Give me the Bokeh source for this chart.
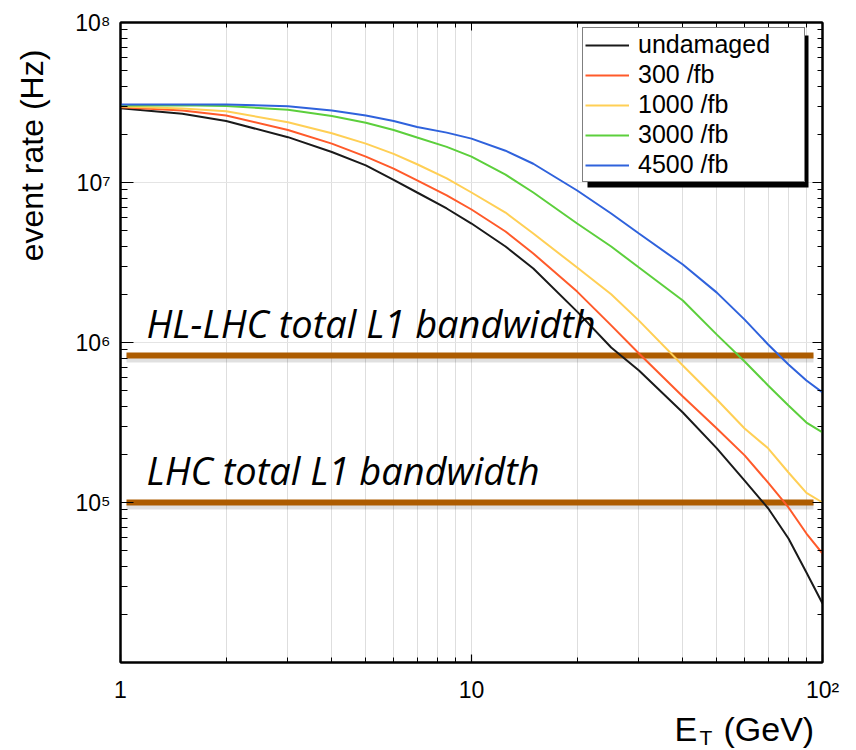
import math
from bokeh.plotting import figure
from bokeh.layouts import column, row
from bokeh.models import (FixedTicker, Legend, LegendItem, Label, BoxAnnotation, LogAxis, Range1d)
from bokeh.core.properties import value
from bokeh.embed import file_html
from bokeh.resources import INLINE

# ---------------- data ----------------
et_gev = [1, 1.5, 2, 3, 4, 5, 6, 7, 8.5, 10, 12.5, 15, 20, 25, 30, 40, 50, 60, 70, 80, 90, 100]
undamaged = [2.91e7, 2.69e7, 2.42e7, 1.92e7, 1.55e7, 1.28e7, 1.04e7, 8.66e6, 6.88e6, 5.54e6, 3.98e6,
             2.90e6, 1.56e6, 9.31e5, 6.68e5, 3.65e5, 2.18e5, 1.37e5, 9.2e4, 5.96e4, 3.65e4, 2.34e4]
fb300 = [2.95e7, 2.82e7, 2.62e7, 2.13e7, 1.75e7, 1.45e7, 1.22e7, 1.03e7, 8.3e6, 6.78e6, 4.94e6,
         3.60e6, 2.08e6, 1.28e6, 8.54e5, 4.60e5, 2.90e5, 1.97e5, 1.33e5, 9.31e4, 6.4e4, 4.8e4]
fb1000 = [2.99e7, 2.90e7, 2.79e7, 2.38e7, 2.03e7, 1.75e7, 1.51e7, 1.30e7, 1.06e7, 8.66e6, 6.49e6,
          4.80e6, 2.94e6, 2.0e6, 1.37e6, 7.18e5, 4.40e5, 2.90e5, 2.18e5, 1.54e5, 1.15e5, 1.0e5]
fb3000 = [3.03e7, 3.04e7, 3.01e7, 2.85e7, 2.60e7, 2.36e7, 2.13e7, 1.91e7, 1.67e7, 1.45e7, 1.12e7,
          8.66e6, 5.54e6, 3.98e6, 2.94e6, 1.83e6, 1.12e6, 7.61e5, 5.39e5, 4.04e5, 3.16e5, 2.74e5]
fb4500 = [3.07e7, 3.07e7, 3.07e7, 3.0e7, 2.82e7, 2.62e7, 2.42e7, 2.22e7, 2.05e7, 1.88e7, 1.58e7,
          1.31e7, 8.91e6, 6.40e6, 4.80e6, 3.07e6, 2.05e6, 1.39e6, 9.72e5, 7.29e5, 5.79e5, 4.87e5]
series_names = ["undamaged", "300 /fb", "1000 /fb", "3000 /fb", "4500 /fb"]
series_colors = ["#1a1a1a", "#ff5a2a", "#ffcf55", "#5ccf3c", "#2f62dc"]

bandwidth_labels = ["HL-LHC total L1 bandwidth", "LHC total L1 bandwidth"]
bandwidth_rates = [8.3e5, 1.0e5]

x_major = [1, 10, 100]
x_major_labels = ["1", "10", "10\u00b2"]
x_minor = [2, 3, 4, 5, 6, 7, 8, 9, 20, 30, 40, 50, 60, 70, 80, 90]
y_major = [1e5, 1e6, 1e7, 1e8]
y_major_labels = ["10\u2075", "10\u2076", "10\u2077", "10\u2078"]
y_minor = [m * d for d in [1e4, 1e5, 1e6, 1e7] for m in range(2, 10)]

y_title = "event rate (Hz)"
x_title_parts = ["E", "T", "(GeV)"]

# ---------------- layout (page pixels) ----------------
W, H = 856, 750
LEFT_STRIP = 60
BOTTOM_STRIP = 44
FL, FR, FT, FB = 120, 822, 22, 662
MAIN_H = H - BOTTOM_STRIP

def sx(px):
    return 10 ** ((px - FL) / 351.0)
def sy(py):
    return 10 ** (8 - (py - FT) / 160.0)

FONT = "Liberation Sans"

p = figure(width=W - LEFT_STRIP, height=MAIN_H, x_axis_type="log", y_axis_type="log",
           x_range=(1, 100), y_range=(1e4, 1e8),
           output_backend="svg", toolbar_location=None,
           min_border_left=FL - LEFT_STRIP, min_border_right=W - FR,
           min_border_top=FT, min_border_bottom=MAIN_H - FB)
p.background_fill_color = "white"
p.border_fill_color = "white"
p.outline_line_color = "black"
p.outline_line_width = 2

xt = FixedTicker(ticks=x_major, minor_ticks=x_minor)
yt = FixedTicker(ticks=y_major, minor_ticks=y_minor)

for ax in p.xaxis:
    ax.ticker = xt
    ax.major_label_overrides = dict(zip(x_major, x_major_labels))
    ax.major_tick_in = 8
    ax.major_tick_out = 0
    ax.minor_tick_in = 5
    ax.minor_tick_out = 0
    ax.axis_line_width = 2
    ax.major_tick_line_width = 1.2
    ax.major_label_text_font = FONT
    ax.major_label_text_font_size = "23px"
    ax.major_label_text_color = "black"
    ax.major_label_standoff = 14

for ax in p.yaxis:
    ax.ticker = yt
    ax.major_label_overrides = dict(zip(y_major, y_major_labels))
    ax.major_tick_in = 13
    ax.major_tick_out = 0
    ax.minor_tick_in = 7
    ax.minor_tick_out = 0
    ax.axis_line_width = 2
    ax.major_tick_line_width = 1.2
    ax.major_label_text_font = FONT
    ax.major_label_text_font_size = "23px"
    ax.major_label_text_color = "black"
    ax.major_label_standoff = 10

# mirrored tick axes (no visible labels)
right_ax = LogAxis(ticker=yt, major_tick_in=10, major_tick_out=0, minor_tick_in=5,
                   minor_tick_out=0, major_label_text_font_size="1px",
                   major_label_text_alpha=0, major_label_standoff=0, axis_line_width=2)
top_ax = LogAxis(ticker=xt, major_tick_in=8, major_tick_out=0, minor_tick_in=5,
                 minor_tick_out=0, major_label_text_font_size="1px",
                 major_label_text_alpha=0, major_label_standoff=0, axis_line_width=2)
p.add_layout(right_ax, "right")
p.add_layout(top_ax, "above")

p.xgrid.ticker = xt
p.xgrid.grid_line_color = "#dedede"
p.xgrid.minor_grid_line_color = "#dedede"
p.ygrid.ticker = yt
p.ygrid.grid_line_color = "#e4e4e4"

# bandwidth lines
x0, x1 = sx(126), sx(813)
shadow_f = 10 ** (-3 / 160.0)
for rate in bandwidth_rates:
    p.segment(x0=[x0], y0=[rate * shadow_f], x1=[x1], y1=[rate * shadow_f],
              line_color="black", line_alpha=0.12, line_width=8)
    p.segment(x0=[x0], y0=[rate], x1=[x1], y1=[rate],
              line_color="#ad5c00", line_width=6)

# curves
renderers = []
for vals, col in zip([undamaged, fb300, fb1000, fb3000, fb4500], series_colors):
    r = p.line(et_gev, vals, line_color=col, line_width=2)
    renderers.append(r)

# bandwidth text (vertical middle of the text line)
for txt, py in zip(bandwidth_labels, [322, 469]):
    p.add_layout(Label(x=sx(146), y=sy(py), text=txt, text_font="Open Sans",
                       text_font_style="italic", text_font_size="38px",
                       text_color="black", text_baseline="middle", text_align="left"))

# legend shadow + legend
p.add_layout(BoxAnnotation(left=sx(587), right=sx(808), top=sy(35), bottom=sy(187),
                           fill_color="black", fill_alpha=1.0, line_color=None))
legend = Legend(items=[LegendItem(label=n, renderers=[r]) for n, r in zip(series_names, renderers)],
                location=(582 - FL, FB - 182), label_text_font=FONT, label_text_font_size="25px",
                label_text_color="black",
                glyph_width=44, glyph_height=24, label_height=24, label_width=164,
                label_standoff=9, padding=2, spacing=1, margin=0,
                border_line_color="black", border_line_width=1.5,
                background_fill_color="white", background_fill_alpha=1.0)
p.add_layout(legend, "center")

# ---------------- title strips ----------------
def strip(width, height):
    f = figure(width=width, height=height, x_range=Range1d(0, width), y_range=Range1d(0, height),
               output_backend="svg", toolbar_location=None, min_border=0,
               x_axis_location=None, y_axis_location=None)
    f.outline_line_color = None
    f.grid.visible = False
    f.background_fill_color = "white"
    f.border_fill_color = "white"
    return f

left = strip(LEFT_STRIP, MAIN_H)
left.text(x=[31], y=[MAIN_H - 30], text=[y_title], angle=math.pi / 2,
          text_font=value(FONT), text_font_size=value("32px"), text_color="black",
          text_align="right", text_baseline="middle")

bottom = strip(W, BOTTOM_STRIP)
bottom.text(x=[674, 699, 723], y=[H - 728, H - 737, H - 728], text=x_title_parts,
            text_font=value(FONT), text_font_size=["34px", "21px", "34px"], text_color="black",
            text_align="left", text_baseline="middle")

layout = column(row(left, p), bottom)
open("out.html", "w").write(file_html(layout, INLINE))
